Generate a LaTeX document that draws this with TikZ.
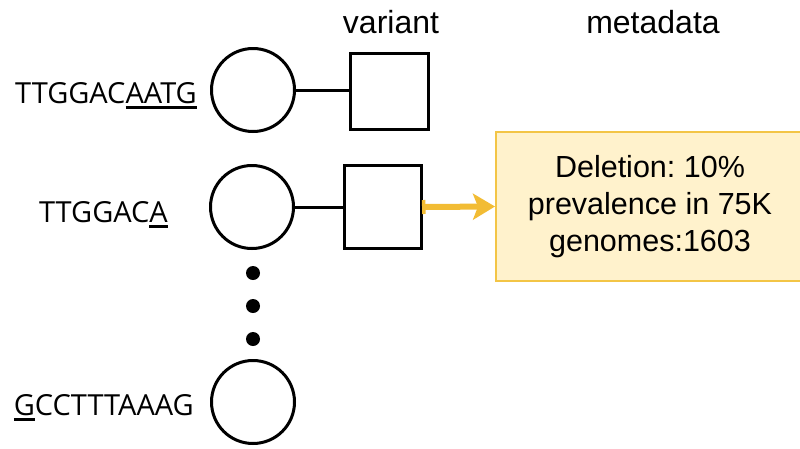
\documentclass[tikz,border=0pt]{standalone}
\usepackage{fontspec}
\setmainfont{Liberation Sans}
\newfontfamily\seqfont{Open Sans}
\usetikzlibrary{positioning,arrows.meta}
\definecolor{vgBlack}{RGB}{0,0,0}
\definecolor{vgGold}{RGB}{242,188,52}
\definecolor{vgCream}{RGB}{255,242,204}
\definecolor{vgEdge}{RGB}{243,197,70}
\newcommand{\seqmark}[1]{\setbox0\hbox{#1}\rlap{\rule[-5.5pt]{\wd0}{2.2pt}}\box0}
\tikzset{
    base/.style={align=center, inner sep=0pt},
    allele/.style={circle, draw=vgBlack, line width=3pt, minimum size=83pt, inner sep=0pt},
    variant/.style={rectangle, draw=vgBlack, line width=3pt, inner sep=0pt},
    seq/.style={base, font=\seqfont\fontsize{29}{34}\selectfont, anchor=base east},
    title/.style={base, font=\fontsize{32}{38}\selectfont, anchor=base},
    meta/.style={base, rectangle, draw=vgEdge, line width=2pt, fill=vgCream,
                 minimum width=308pt, minimum height=149pt,
                 font=\frenchspacing\fontsize{30.5}{37}\selectfont},
    link/.style={line width=3pt, color=vgBlack},
    flow/.style={arrows={Bar[width=14pt,line width=3.5pt]-Stealth[length=22pt,width=26pt,inset=5pt]},
                 line width=6pt, draw=vgGold, shorten <=-1pt},
    dot/.style={circle, fill=vgBlack, minimum size=14pt, inner sep=0pt}
}
\begin{document}
\begin{tikzpicture}[x=1pt, y=-1pt]
  \useasboundingbox (0,0) rectangle (800,448);

  \node[title] (varhead) at (391,33) {variant};
  \node[title] (metahead) at (653,33) {metadata};

  \node[allele] (ref) at (253,90) {};
  \node[allele] (del) at (252,207) {};
  \node[allele] (alt) at (253,402) {};

  \node[seq] (refseq) at (197,103) {TTGGAC\seqmark{AATG}};
  \node[seq] (delseq) at (168,222) {TTGGAC\seqmark{A}};
  \node[seq] (altseq) at (194,415) {\seqmark{G}CCTTTAAAG};

  \node[variant, minimum width=78pt, minimum height=76pt] (refvar) at (389.5,91.5) {};
  \node[variant, minimum width=77pt, minimum height=83pt] (delvar) at (383,207) {};

  \node[meta] (info) at (650,206.5) {Deletion: 10\%\\ prevalence in 75K\\ genomes:1603};

  \foreach \y [count=\i] in {273,306,339}
    \node[dot] (gap\i) at (253,\y) {};

  \draw[link] (ref) -- (refvar.west |- ref.east);
  \draw[link] (del) -- (delvar);
  \draw[flow] (delvar.east) -- (info.west);
\end{tikzpicture}
\end{document}
